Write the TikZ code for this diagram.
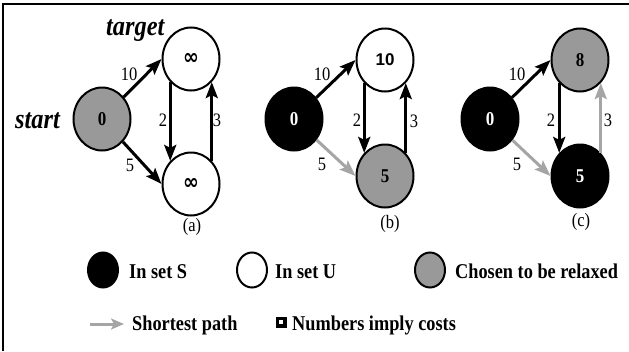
\documentclass[tikz,border=0pt]{standalone}
\usepackage{fontspec}
\setmainfont{Liberation Serif}
\setsansfont{Liberation Sans}
\newfontfamily\djv{DejaVu Sans}
\usepackage{graphicx}
\usetikzlibrary{shapes.geometric,arrows.meta}
\definecolor{ngray}{RGB}{153,153,153}
\definecolor{agray}{RGB}{165,165,165}
\newcommand{\ys}[1]{\scalebox{1}[1.15]{#1}}
\newcommand{\inft}{{\djv\fontsize{19}{19}\selectfont\bfseries ∞}}
\begin{document}
\begin{tikzpicture}[x=1pt,y=-1pt,
  vtx/.style={ellipse,draw=black,line width=2pt,minimum width=57pt,minimum height=63pt,inner sep=0pt,font=\fontsize{17}{17}\selectfont\bfseries},
  wvtx/.style={vtx,fill=white},
  gvtx/.style={vtx,fill=ngray},
  bvtx/.style={vtx,fill=black,text=white},
  lgvtx/.style={ellipse,draw=black,line width=2pt,minimum width=30pt,minimum height=35pt,inner sep=0pt},
  edg/.style={line width=3pt,-{Stealth[length=16pt,width=12pt,inset=3pt]}},
  gedg/.style={edg,draw=agray,color=agray},
  elab/.style={font=\fontsize{16.5}{16.5}\selectfont,inner sep=0pt},
  big/.style={font=\fontsize{24.4}{24.4}\selectfont\bfseries\itshape,inner sep=0pt,anchor=base west},
  legtxt/.style={font=\fontsize{18.3}{18.3}\selectfont\bfseries,inner sep=0pt,anchor=base west}
]
\useasboundingbox (0,0) rectangle (629,351);
\draw[line width=1.5pt] (3,351) -- (3,4) -- (629,4);

% ---------- panel (a)
\node[big] (start) at (15,128) {\ys{start}};
\node[big] (target) at (106,35) {\ys{target}};
\node[gvtx] (a0) at (102,119) {\ys{0}};
\node[wvtx] (a1) at (191,59) {\ys{\inft}};
\node[wvtx] (a2) at (191,184) {\ys{\inft}};
\draw[edg] (a0) -- (a1.west);
\draw[edg] (a0) -- (a2.west);
\draw[edg] (a1.228) -- (a2.132);
\draw[edg] (a2.48) -- (a1.312);
\node[elab] (la10) at (129,74) {\ys{10}};
\node[elab] (la2) at (163,120) {\ys{2}};
\node[elab] (la3) at (217,120) {\ys{3}};
\node[elab] (la5) at (130,165) {\ys{5}};
\node[elab] (capa) at (192,227) {\ys{(a)}};

% ---------- panel (b)
\node[bvtx] (b0) at (294,119) {\ys{0}};
\node[wvtx,font=\fontsize{17}{17}\selectfont\sffamily\bfseries] (b1) at (385,60) {10};
\node[gvtx] (b2) at (385,176) {\ys{5}};
\draw[edg] (b0) -- (b1.west);
\draw[gedg] (b0) -- (b2.west);
\draw[edg] (b1.228) -- (b2.132);
\draw[edg] (b2.48) -- (b1.312);
\node[elab] (lb10) at (322,74) {\ys{10}};
\node[elab] (lb2) at (357,120) {\ys{2}};
\node[elab] (lb3) at (414,121) {\ys{3}};
\node[elab] (lb5) at (322,164) {\ys{5}};
\node[elab] (capb) at (390,224) {\ys{(b)}};

% ---------- panel (c)
\node[bvtx] (c0) at (490,119) {\ys{0}};
\node[gvtx] (c1) at (580,60) {\ys{8}};
\node[bvtx] (c2) at (580,176) {\ys{5}};
\draw[edg] (c0) -- (c1.west);
\draw[gedg] (c0) -- (c2.west);
\draw[edg] (c1.228) -- (c2.132);
\draw[gedg] (c2.48) -- (c1.312);
\node[elab] (lc10) at (517,74) {\ys{10}};
\node[elab] (lc2) at (551,120) {\ys{2}};
\node[elab] (lc3) at (608,120) {\ys{3}};
\node[elab] (lc5) at (517,164) {\ys{5}};
\node[elab] (capc) at (581,222) {\ys{(c)}};

% ---------- legend
\node[lgvtx,fill=black] (ls) at (103,270) {};
\node[legtxt] (tS) at (129,278) {\ys{In set S}};
\node[lgvtx,fill=white] (lu) at (252,270) {};
\node[legtxt] (tU) at (275,278) {\ys{In set U}};
\node[lgvtx,fill=ngray] (lr) at (430,270) {};
\node[legtxt] (tR) at (455,278) {\ys{Chosen to be relaxed}};
\coordinate (pa) at (90,324);
\coordinate (pb) at (124,324);
\draw[line width=3pt,color=agray,-{Stealth[length=13pt,width=11pt,inset=3pt]}] (pa) -- (pb);
\node[legtxt] (tP) at (132,330) {\ys{Shortest path}};
\node[fill=black,minimum size=11pt,inner sep=0pt] (sq) at (281,322) {};
\node[fill=white,minimum size=4pt,inner sep=0pt] (sqi) at (sq.center) {};
\node[legtxt] (tN) at (292,330) {\ys{Numbers imply costs}};
\end{tikzpicture}
\end{document}
